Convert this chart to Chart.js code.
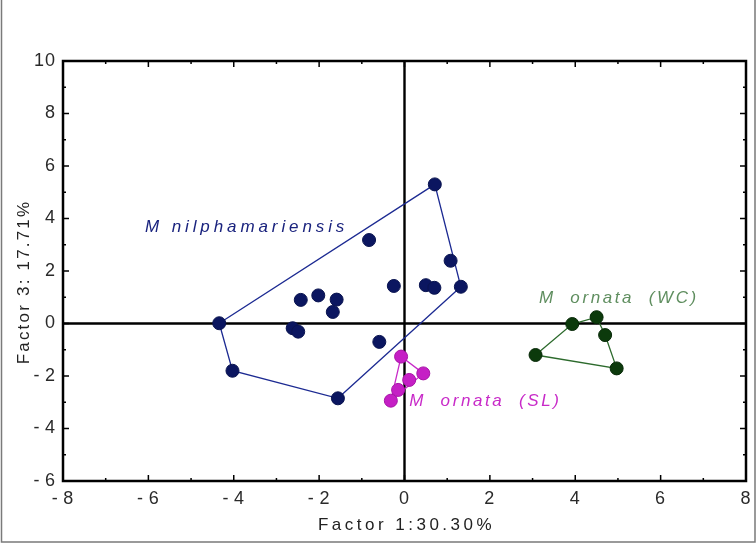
<!DOCTYPE html>
<html>
<head>
<meta charset="utf-8">
<script src="https://cdn.jsdelivr.net/npm/chart.js@4.4.1/dist/chart.umd.min.js"></script>
<style>
  body { margin: 0; background: #fff; }
  #wrap { width: 756px; height: 545px; }
</style>
</head>
<body>
<div id="wrap"><canvas id="grafico" width="756" height="545"></canvas></div>
<script>
// valores (Factor 1 x Factor 3)
const nilX = [0.71, -0.83, 1.08, -0.25, 0.50, 0.70, 1.32, -2.43, -2.02, -1.59, -1.68, -4.34, -2.62, -2.49, -0.59, -4.03, -1.56];
const nilY = [5.30, 3.18, 2.39, 1.43, 1.46, 1.36, 1.40, 0.90, 1.07, 0.91, 0.44, 0.01, -0.18, -0.31, -0.70, -1.80, -2.85];
const nilHull = [11, 0, 6, 16, 15, 11];

const slX = [-0.08, 0.44, 0.11, -0.15, -0.32];
const slY = [-1.26, -1.90, -2.15, -2.53, -2.94];
const slHull = [0, 1, 4, 0];

const wcX = [4.50, 3.93, 4.70, 3.07, 4.97];
const wcY = [0.24, -0.02, -0.44, -1.20, -1.71];
const wcHull = [3, 1, 0, 2, 4, 3];

const grupos = ['M nilphamariensis', 'M  ornata  (SL)', 'M  ornata  (WC)'];
const xTicks = [-8, -6, -4, -2, 0, 2, 4, 6, 8];
const yTicks = [-6, -4, -2, 0, 2, 4, 6, 8, 10];
const tituloX = 'Factor 1:30.30%';
const tituloY = 'Factor 3: 17.71%';

function pontos(xs, ys) {
    return xs.map(function (x, i) { return { x: x, y: ys[i] }; });
}
function contorno(xs, ys, idx) {
    return idx.map(function (i) { return { x: xs[i], y: ys[i] }; });
}

const cores = {
    nil: { ponto: '#0b1660', linha: '#1c2a92', texto: '#1a237e' },
    sl: { ponto: '#c51fc5', linha: '#c82ac8', texto: '#c82ac8' },
    wc: { ponto: '#0c3a0c', linha: '#2c6a2c', texto: '#5f8e5f' }
};

function linhaDataset(data, cor) {
    return { data: data, showLine: true, pointRadius: 0, borderColor: cor, borderWidth: 1.3, fill: false, order: 2 };
}
function pontoDataset(data, cor, borda) {
    return { data: data, showLine: false, pointRadius: 6.5, pointHoverRadius: 6.5, backgroundColor: cor, borderColor: borda, borderWidth: 1, order: 1 };
}

const dados = {
    datasets: [
        linhaDataset(contorno(nilX, nilY, nilHull), cores.nil.linha),
        linhaDataset(contorno(slX, slY, slHull), cores.sl.linha),
        linhaDataset(contorno(wcX, wcY, wcHull), cores.wc.linha),
        pontoDataset(pontos(nilX, nilY), cores.nil.ponto, '#0a1450'),
        pontoDataset(pontos(slX, slY), cores.sl.ponto, '#a815a8'),
        pontoDataset(pontos(wcX, wcY), cores.wc.ponto, '#082a08')
    ]
};

// moldura, eixos zero, ticks para dentro, rotulos e titulos
const extras = {
    id: 'extras',
    beforeDraw: function (chart) {
        const ctx = chart.ctx;
        ctx.save();
        ctx.fillStyle = '#fff';
        ctx.fillRect(0, 0, chart.width, chart.height);
        ctx.strokeStyle = '#7a7a7a';
        ctx.lineWidth = 1.5;
        ctx.beginPath();
        ctx.moveTo(1.5, 0);
        ctx.lineTo(1.5, 542);
        ctx.lineTo(755, 542);
        ctx.lineTo(755, 0);
        ctx.stroke();
        ctx.restore();
        ctx.letterSpacing = '1px';
    },
    beforeDatasetsDraw: function (chart) {
        const ctx = chart.ctx;
        const a = chart.chartArea;
        const sx = chart.scales.x;
        const sy = chart.scales.y;
        ctx.save();
        ctx.letterSpacing = '0px';
        ctx.strokeStyle = '#000';
        // linhas do zero
        ctx.lineWidth = 2.4;
        ctx.beginPath();
        const x0 = sx.getPixelForValue(0);
        const y0 = sy.getPixelForValue(0);
        ctx.moveTo(x0, a.top); ctx.lineTo(x0, a.bottom);
        ctx.moveTo(a.left, y0); ctx.lineTo(a.right, y0);
        ctx.stroke();
        // ticks
        ctx.lineWidth = 1.5;
        ctx.beginPath();
        for (let v = -8; v <= 8; v++) {
            const px = sx.getPixelForValue(v);
            const len = v % 2 === 0 ? 6 : 3;
            ctx.moveTo(px, a.bottom); ctx.lineTo(px, a.bottom - len);
            ctx.moveTo(px, a.top); ctx.lineTo(px, a.top + len);
        }
        for (let v = -6; v <= 10; v++) {
            const py = sy.getPixelForValue(v);
            const len = v % 2 === 0 ? 6 : 3;
            ctx.moveTo(a.left, py); ctx.lineTo(a.left + len, py);
            ctx.moveTo(a.right, py); ctx.lineTo(a.right - len, py);
        }
        ctx.stroke();
        ctx.restore();
    },
    afterDatasetsDraw: function (chart) {
        const ctx = chart.ctx;
        const a = chart.chartArea;
        const sx = chart.scales.x;
        const sy = chart.scales.y;
        ctx.save();
        // moldura do grafico
        ctx.strokeStyle = '#000';
        ctx.lineWidth = 2.5;
        ctx.strokeRect(a.left, a.top, a.right - a.left, a.bottom - a.top);

        // nomes dos grupos
        ctx.font = 'italic 17px "Liberation Sans", Arial, sans-serif';
        ctx.textBaseline = 'middle';
        ctx.textAlign = 'left';
        ctx.letterSpacing = '3.9px';
        ctx.fillStyle = cores.nil.texto;
        ctx.fillText(grupos[0], sx.getPixelForValue(-6.08), sy.getPixelForValue(3.66));
        ctx.letterSpacing = '2.6px';
        ctx.fillStyle = cores.sl.texto;
        ctx.fillText(grupos[1], sx.getPixelForValue(0.11), sy.getPixelForValue(-2.96));
        ctx.fillStyle = cores.wc.texto;
        ctx.fillText(grupos[2], sx.getPixelForValue(3.15), sy.getPixelForValue(0.97));

        // titulos dos eixos
        ctx.fillStyle = '#222';
        ctx.font = '17px "Liberation Sans", Arial, sans-serif';
        ctx.letterSpacing = '3.5px';
        ctx.textAlign = 'center';
        ctx.fillText(tituloX, (a.left + a.right) / 2 + 2, 525);
        ctx.translate(24, 282);
        ctx.rotate(-Math.PI / 2);
        ctx.letterSpacing = '2.2px';
        ctx.fillText(tituloY, 0, 0);
        ctx.restore();
        ctx.letterSpacing = '0px';
    }
};

function formatar(v) {
    return v < 0 ? '-\u2009' + Math.abs(v) : String(v);
}

const fonteTicks = { size: 18, family: '"Liberation Sans", Arial, sans-serif' };

const config = {
    type: 'scatter',
    data: dados,
    options: {
        responsive: false,
        animation: false,
        layout: { padding: { left: 0, right: 10, top: 61, bottom: 0 } },
        plugins: {
            legend: { display: false },
            tooltip: { enabled: false }
        },
        scales: {
            x: {
                type: 'linear',
                min: -8,
                max: 8,
                afterBuildTicks: function (scale) {
                    scale.ticks = xTicks.map(function (v) { return { value: v }; });
                },
                ticks: {
                    callback: formatar,
                    color: '#2a2a2a',
                    font: fonteTicks,
                    padding: 7,
                    maxRotation: 0,
                    autoSkip: false
                },
                grid: { display: false, drawTicks: false },
                border: { display: false },
                afterFit: function (scale) {
                    scale.height = 64;
                    scale.paddingLeft = 0;
                    scale.paddingRight = 0;
                }
            },
            y: {
                type: 'linear',
                min: -6,
                max: 10,
                afterBuildTicks: function (scale) {
                    scale.ticks = yTicks.map(function (v) { return { value: v }; });
                },
                ticks: {
                    callback: formatar,
                    color: '#2a2a2a',
                    font: fonteTicks,
                    padding: 7,
                    autoSkip: false
                },
                grid: { display: false, drawTicks: false },
                border: { display: false },
                afterFit: function (scale) {
                    scale.width = 63;
                    scale.paddingTop = 0;
                    scale.paddingBottom = 0;
                }
            }
        }
    },
    plugins: [extras]
};

new Chart(document.getElementById('grafico'), config);
</script>
</body>
</html>
